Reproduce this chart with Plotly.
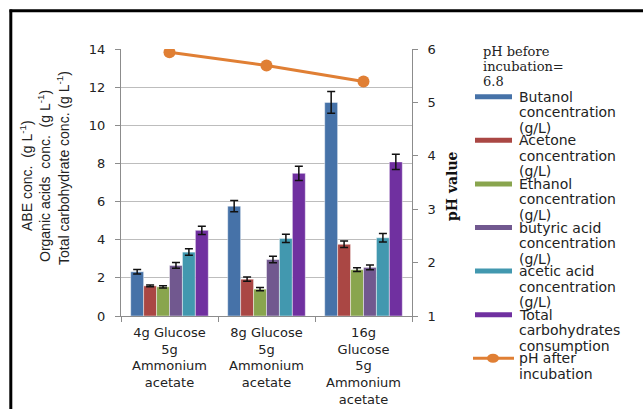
import plotly.graph_objects as go

# ---- data -------------------------------------------------------------
cat_keys = ["4g", "8g", "16g"]
cat_labels = [
    "4g Glucose<br>5g<br>Ammonium<br>acetate",
    "8g Glucose<br>5g<br>Ammonium<br>acetate",
    "16g<br>Glucose<br>5g<br>Ammonium<br>acetate",
]

butanol = [2.32, 5.76, 11.2]
butanol_err = [0.12, 0.29, 0.57]
acetone = [1.58, 1.93, 3.76]
acetone_err = [0.05, 0.11, 0.17]
ethanol = [1.53, 1.41, 2.43]
ethanol_err = [0.06, 0.09, 0.10]
butyric = [2.65, 2.96, 2.55]
butyric_err = [0.15, 0.17, 0.13]
acetic = [3.35, 4.07, 4.10]
acetic_err = [0.17, 0.21, 0.22]
total_carb = [4.49, 7.48, 8.08]
total_carb_err = [0.22, 0.37, 0.40]

ph_after = [5.94, 5.69, 5.39]

bar_names = [
    "Butanol<br>concentration<br>(g/L)",
    "Acetone<br>concentration<br>(g/L)",
    "Ethanol<br>concentration<br>(g/L)",
    "butyric acid<br>concentration<br>(g/L)",
    "acetic acid<br>concentration<br>(g/L)",
    "Total<br>carbohydrates<br>consumption",
]
line_name = "pH after<br>incubation"
ph_note = ["pH before", "incubation=", "6.8"]

# ---- styling ----------------------------------------------------------
bar_colors = ["#4672A8", "#AA4744", "#89A54E", "#71588F", "#4298AF", "#7030A0"]
line_color = "#E07F34"
grid_color = "#BDBDBD"
axis_color = "#8C8C8C"
text_color = "#222222"
SANS = "DejaVu Sans"
NARROW = "Liberation Sans"
SERIF = "DejaVu Serif"

W, H = 643, 409
L, R, T, B = 121, 231, 49, 93
PW, PH = W - L - R, H - T - B


def fx(px):
    return (px - L) / PW


def fy(py):
    return (H - B - py) / PH


fig = go.Figure()

series = [
    (butanol, butanol_err),
    (acetone, acetone_err),
    (ethanol, ethanol_err),
    (butyric, butyric_err),
    (acetic, acetic_err),
    (total_carb, total_carb_err),
]
for (vals, errs), name, color in zip(series, bar_names, bar_colors):
    fig.add_trace(go.Bar(
        x=cat_keys, y=vals, name=name,
        marker=dict(color=color, line=dict(color="rgba(255,255,255,0.45)", width=1)),
        error_y=dict(type="data", array=errs, visible=True,
                     color="#111111", thickness=1.5, width=4),
        showlegend=False,
    ))

fig.add_trace(go.Scatter(
    x=cat_keys, y=ph_after, name=line_name, yaxis="y2",
    mode="lines+markers",
    line=dict(color=line_color, width=3),
    marker=dict(color=line_color, size=12),
    showlegend=False,
))

# ---- legend drawn beside the plot -------------------------------------
shapes = []
annotations = []
entry_y0, entry_step, line_step = 96.7, 43.6, 15.5
sw_x0, sw_x1, txt_x = 475, 512, 517
names = bar_names + [line_name]
for i, name in enumerate(names):
    cy = entry_y0 + i * entry_step
    if i < len(bar_names):
        shapes.append(dict(type="rect", xref="paper", yref="paper",
                           x0=fx(sw_x0), x1=fx(sw_x1), y0=fy(cy + 2.5), y1=fy(cy - 2.5),
                           fillcolor=bar_colors[i], line=dict(width=0)))
    else:
        shapes.append(dict(type="line", xref="paper", yref="paper",
                           x0=fx(sw_x0 - 2), x1=fx(sw_x1 + 2), y0=fy(cy), y1=fy(cy),
                           line=dict(color=line_color, width=3)))
        shapes.append(dict(type="circle", xref="paper", yref="paper",
                           x0=fx(487), x1=fx(499), y0=fy(cy + 4.5), y1=fy(cy - 4.5),
                           fillcolor=line_color, line=dict(width=0)))
    for k, part in enumerate(name.split("<br>")):
        annotations.append(dict(text=part, xref="paper", yref="paper",
                                x=fx(txt_x), y=fy(cy + k * line_step),
                                xanchor="left", yanchor="middle", showarrow=False,
                                font=dict(family=SANS, size=14, color=text_color)))

for k, part in enumerate(ph_note):
    annotations.append(dict(text=part, xref="paper", yref="paper",
                            x=fx(481), y=fy(51.7 + k * 15), xanchor="left",
                            yanchor="middle", showarrow=False,
                            font=dict(family=SERIF, size=13, color=text_color)))

# left axis title, three stacked lines
left_titles = [
    "ABE conc.  (g L<sup>-1</sup>)",
    "Organic acids  conc.  (g L<sup>-1</sup>)",
    "Total carbohydrate conc. (g L<sup>-1</sup>)",
]
left_title_x = [26, 44, 63]
left_title_y = [176, 176, 168]
for t, tx, ty in zip(left_titles, left_title_x, left_title_y):
    annotations.append(dict(text=t, xref="paper", yref="paper",
                            x=fx(tx), y=fy(ty), textangle=-90,
                            xanchor="center", yanchor="middle", showarrow=False,
                            font=dict(family=NARROW, size=14, color=text_color)))

annotations.append(dict(text="<b>pH value</b>", xref="paper", yref="paper",
                        x=fx(452), y=fy(186), textangle=-90,
                        xanchor="center", yanchor="middle", showarrow=False,
                        font=dict(family=SERIF, size=14, color="#111111")))

# outer frame (top and left edges)
shapes.append(dict(type="line", xref="paper", yref="paper",
                   x0=fx(10.8), x1=fx(10.8), y0=fy(H + 5), y1=fy(9.5),
                   line=dict(color="#000000", width=3)))
shapes.append(dict(type="line", xref="paper", yref="paper",
                   x0=fx(9.5), x1=fx(W + 5), y0=fy(10.8), y1=fy(10.8),
                   line=dict(color="#000000", width=3)))

fig.update_layout(
    width=W, height=H, autosize=False,
    margin=dict(l=L, r=R, t=T, b=B, pad=0, autoexpand=False),
    paper_bgcolor="white", plot_bgcolor="white",
    barmode="group", bargap=0.2, bargroupgap=0,
    showlegend=False,
    font=dict(family=SANS, size=13, color=text_color),
    xaxis=dict(type="category", tickvals=cat_keys, ticktext=cat_labels,
               automargin=False,
               showline=True, linecolor=axis_color, linewidth=1,
               ticks="outside", tickson="boundaries", ticklen=5, tickcolor=axis_color,
               ticklabelstandoff=4,
               showgrid=False, tickfont=dict(family=SANS, size=13, color=text_color)),
    yaxis=dict(range=[0, 14], dtick=2, showgrid=True, gridcolor=grid_color, gridwidth=1.3,
               automargin=False,
               showline=True, linecolor=axis_color, linewidth=1,
               ticks="outside", ticklen=5, tickcolor=axis_color, zeroline=False,
               ticklabelstandoff=7,
               tickfont=dict(family=SANS, size=13, color=text_color)),
    yaxis2=dict(range=[1, 6], dtick=1, overlaying="y", side="right", showgrid=False,
                automargin=False,
                showline=True, linecolor=axis_color, linewidth=1,
                ticks="outside", ticklen=5, tickcolor=axis_color, zeroline=False,
                ticklabelstandoff=7,
                tickfont=dict(family=SANS, size=13, color=text_color)),
    shapes=shapes,
    annotations=annotations,
)

fig.write_html("out.html")
